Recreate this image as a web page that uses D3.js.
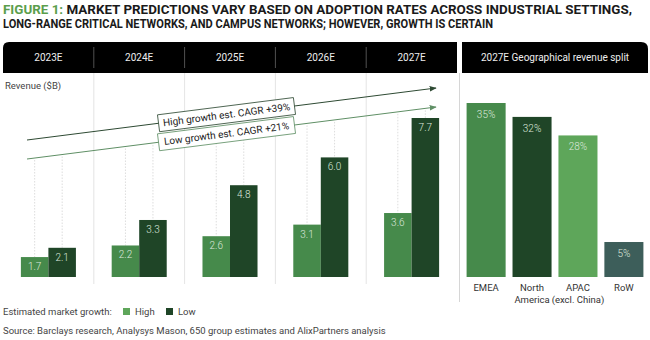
<!DOCTYPE html>
<html>
<head>
<meta charset="utf-8">
<script src="https://cdn.jsdelivr.net/npm/d3@7"></script>
<style>
  body { margin: 0; background: #fff; }
  svg { display: block; font-family: Roboto, "Noto Sans", sans-serif; }
</style>
</head>
<body>
<div id="chart"></div>
<script>
// data
const years = ['2023E', '2024E', '2025E', '2026E', '2027E'];
const series = ['High', 'Low'];
const highVals = [1.7, 2.2, 2.6, 3.1, 3.6];
const lowVals = [2.1, 3.3, 4.8, 6.0, 7.7];
const regions = ['EMEA', 'North America', 'APAC (excl. China)', 'RoW'];
const regionLines = [['EMEA'], ['North', 'America'], ['APAC', '(excl. China)'], ['RoW']];
const regionShare = [35, 32, 28, 5];
const trendLabels = ['High growth est. CAGR +39%', 'Low growth est. CAGR +21%'];

// sizes
let svgWidth = 650;
let svgHeight = 340;
let baseY = 277;

let colors = { High: '#468a4b', Low: '#1f4527' };
let regionColors = ['#468a4b', '#1f4527', '#5ea65a', '#3d5e5a'];

let svg = d3.select('#chart').append('svg')
    .attr('width', svgWidth).attr('height', svgHeight);

// title
let title = [['FIGURE 1: ', 'MARKET PREDICTIONS VARY BASED ON ADOPTION RATES ACROSS INDUSTRIAL SETTINGS,'],
             ['', 'LONG-RANGE CRITICAL NETWORKS, AND CAMPUS NETWORKS; HOWEVER, GROWTH IS CERTAIN']];
let titleLen = [629, 490];
title.forEach((t, i) => {
    let tx = svg.append('text')
        .attr('x', 3).attr('y', 14 + i * 14)
        .attr('font-size', 12.5).attr('font-weight', 700)
        .attr('textLength', titleLen[i]).attr('lengthAdjust', 'spacingAndGlyphs');
    if (t[0]) tx.append('tspan').attr('fill', '#5b9e4c').text(t[0]);
    tx.append('tspan').attr('fill', '#1a1a1a').text(t[1]);
});

// scales
let x = d3.scaleBand().domain(years).range([3, 457]);
let xIn = d3.scaleBand().domain(series).range([0, x.bandwidth()])
    .paddingInner(0).paddingOuter(0.65);
let y = d3.scaleLinear().domain([0.84, 7.7]).range([baseY, 118]);

let x2 = d3.scaleBand().domain(regions).range([462, 648])
    .paddingInner(0.15).paddingOuter(0.1);
let y2 = d3.scaleLinear().domain([-2.55, 35]).range([baseY, 103]);

// header bars
function topRounded(x0, x1, y0, y1, rl, rr) {
    return `M${x0},${y1} L${x0},${y0 + rl} Q${x0},${y0} ${x0 + rl},${y0} L${x1 - rr},${y0} Q${x1},${y0} ${x1},${y0 + rr} L${x1},${y1} Z`;
}
svg.append('path').attr('d', topRounded(3, 457, 42, 73, 6, 0)).attr('fill', '#000');
svg.append('path').attr('d', topRounded(462, 648, 42, 73, 0, 7)).attr('fill', '#000');

svg.selectAll('.yearLabel')
    .data(years).enter().append('text')
    .attr('x', d => x(d) + x.bandwidth() / 2)
    .attr('y', 61)
    .attr('text-anchor', 'middle')
    .attr('font-size', 10).attr('fill', '#eee')
    .text(d => d);

svg.append('text')
    .attr('x', 555).attr('y', 61)
    .attr('text-anchor', 'middle')
    .attr('font-size', 10).attr('fill', '#eee')
    .text('2027E Geographical revenue split');

// header separators and column lines
years.slice(1).forEach(d => {
    svg.append('line')
        .attr('x1', x(d)).attr('x2', x(d)).attr('y1', 47).attr('y2', 68)
        .attr('stroke', '#666').attr('stroke-width', 0.8);
    svg.append('line')
        .attr('x1', x(d)).attr('x2', x(d)).attr('y1', 73).attr('y2', 284)
        .attr('stroke', '#ddd').attr('stroke-width', 0.8);
});
svg.append('line')
    .attr('x1', 459.5).attr('x2', 459.5).attr('y1', 73).attr('y2', 302)
    .attr('stroke', '#ccc').attr('stroke-width', 0.8);

svg.append('text')
    .attr('x', 5).attr('y', 89)
    .attr('font-size', 9.5).attr('fill', '#444')
    .text('Revenue ($B)');

// trend lines (arrows)
let trends = [
    { x1: 27, y1: 140, x2: 436, y2: 88, color: '#2e4a33', label: trendLabels[0] },
    { x1: 27, y1: 159, x2: 436, y2: 107, color: '#5f8f65', label: trendLabels[1] }
];
let defs = svg.append('defs');
trends.forEach((t, i) => {
    defs.append('marker')
        .attr('id', 'arrow' + i)
        .attr('viewBox', '0 0 10 10').attr('refX', 9).attr('refY', 5)
        .attr('markerWidth', 7).attr('markerHeight', 7)
        .attr('orient', 'auto')
        .append('path').attr('d', 'M0,1 L10,5 L0,9 Z').attr('fill', t.color);
});

// dotted drop lines from the low trend line to bar tops
let lowLine = trends[1];
function lineY(t, px) { return t.y1 + (t.y2 - t.y1) * (px - t.x1) / (t.x2 - t.x1); }
let barData = [];
years.forEach((yr, i) => {
    barData.push({ year: yr, s: 'High', v: highVals[i] });
    barData.push({ year: yr, s: 'Low', v: lowVals[i] });
});
svg.selectAll('.drop')
    .data(barData).enter().append('line')
    .attr('x1', d => x(d.year) + xIn(d.s) + xIn.bandwidth() / 2)
    .attr('x2', d => x(d.year) + xIn(d.s) + xIn.bandwidth() / 2)
    .attr('y1', d => lineY(lowLine, x(d.year) + xIn(d.s) + xIn.bandwidth() / 2) + 2)
    .attr('y2', d => y(d.v))
    .attr('stroke', '#d4d4d4').attr('stroke-width', 0.8)
    .attr('stroke-dasharray', '1.5,1.5');

trends.forEach((t, i) => {
    svg.append('line')
        .attr('x1', t.x1).attr('y1', t.y1).attr('x2', t.x2).attr('y2', t.y2)
        .attr('stroke', t.color).attr('stroke-width', 1)
        .attr('marker-end', `url(#arrow${i})`);
});

// label boxes on trend lines
let angle = Math.atan2(trends[0].y2 - trends[0].y1, trends[0].x2 - trends[0].x1) * 180 / Math.PI;
trends.forEach(t => {
    let cx = 226.5, cy = lineY(t, cx);
    let g = svg.append('g').attr('transform', `translate(${cx},${cy}) rotate(${angle})`);
    g.append('rect')
        .attr('x', -68.5).attr('y', -8.5).attr('width', 137).attr('height', 17)
        .attr('fill', '#fff').attr('stroke', t.color).attr('stroke-width', 0.8);
    g.append('text')
        .attr('y', 3.5).attr('text-anchor', 'middle')
        .attr('font-size', 10).attr('fill', '#222')
        .text(t.label);
});

// bars
svg.selectAll('.bar')
    .data(barData).enter().append('rect')
    .attr('x', d => x(d.year) + xIn(d.s))
    .attr('y', d => y(d.v))
    .attr('width', xIn.bandwidth())
    .attr('height', d => baseY - y(d.v))
    .attr('fill', d => colors[d.s]);

svg.selectAll('.barLabel')
    .data(barData).enter().append('text')
    .attr('x', d => x(d.year) + xIn(d.s) + xIn.bandwidth() / 2)
    .attr('y', d => y(d.v) + 13)
    .attr('text-anchor', 'middle')
    .attr('font-size', 10).attr('font-weight', 300).attr('fill', '#dde8dd')
    .text(d => d.v.toFixed(1));

// geographical split
svg.selectAll('.geoBar')
    .data(regions).enter().append('rect')
    .attr('x', d => x2(d))
    .attr('y', (d, i) => y2(regionShare[i]))
    .attr('width', x2.bandwidth())
    .attr('height', (d, i) => baseY - y2(regionShare[i]))
    .attr('fill', (d, i) => regionColors[i]);

svg.selectAll('.geoLabel')
    .data(regions).enter().append('text')
    .attr('x', d => x2(d) + x2.bandwidth() / 2)
    .attr('y', (d, i) => y2(regionShare[i]) + 15)
    .attr('text-anchor', 'middle')
    .attr('font-size', 10).attr('font-weight', 300).attr('fill', '#dde8dd')
    .text((d, i) => regionShare[i] + '%');

regions.forEach((d, i) => {
    let t = svg.append('text')
        .attr('x', x2(d) + x2.bandwidth() / 2)
        .attr('y', 291)
        .attr('text-anchor', 'middle')
        .attr('font-size', 9.5).attr('fill', '#333');
    regionLines[i].forEach((ln, j) => {
        t.append('tspan')
            .attr('x', x2(d) + x2.bandwidth() / 2)
            .attr('dy', j === 0 ? 0 : 12)
            .text(ln);
    });
});

// legend
svg.append('text')
    .attr('x', 3).attr('y', 315)
    .attr('font-size', 9.5).attr('fill', '#444')
    .text('Estimated market growth:');
let legendColors = { High: '#5ea65a', Low: '#1f4527' };
let legendX = { High: 123, Low: 166 };
series.forEach(s => {
    svg.append('rect')
        .attr('x', legendX[s]).attr('y', 308).attr('width', 7).attr('height', 7)
        .attr('fill', legendColors[s]);
    svg.append('text')
        .attr('x', legendX[s] + 12).attr('y', 315)
        .attr('font-size', 9.5).attr('fill', '#444')
        .text(s);
});

svg.append('text')
    .attr('x', 3).attr('y', 334)
    .attr('font-size', 9.5).attr('fill', '#444')
    .text('Source: Barclays research, Analysys Mason, 650 group estimates and AlixPartners analysis');
</script>
</body>
</html>
